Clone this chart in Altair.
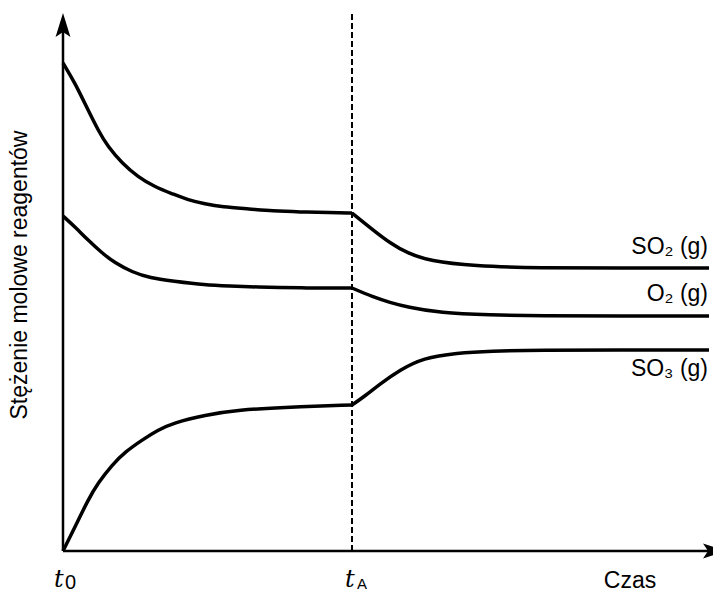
import altair as alt
import pandas as pd

# Data (x: time units from t0, y: concentration units); curves split at t_A
t_a = 289

so2_pre_x = [0, 12, 25, 35, 45, 59, 75, 92, 110, 125, 142, 159, 187, 209, 237, 267, 289]
so2_pre_y = [488, 468, 441, 421, 404, 388, 374, 364, 357, 351, 347, 344, 342, 340, 339, 338.5, 338]
so2_post_x = [289, 310, 327, 344, 367, 410, 477, 557, 646]
so2_post_y = [338, 321, 308, 298, 290, 285, 283, 283, 283]

o2_pre_x = [0, 12, 25, 39, 52, 69, 87, 110, 142, 167, 192, 237, 289]
o2_pre_y = [335, 324, 311, 298, 288, 279, 273, 270, 266, 265, 264, 263, 263]
o2_post_x = [289, 310, 327, 344, 377, 427, 477, 557, 646]
o2_post_y = [263, 254, 248.5, 244, 238, 236, 235, 235, 235]

so3_pre_x = [0, 12, 25, 35, 49, 62, 79, 95, 110, 142, 175, 225, 289]
so3_pre_y = [0, 24, 51, 68, 86, 99, 111, 121, 128, 136, 141, 144, 146]
so3_post_x = [289, 302, 317, 337, 360, 394, 427, 477, 557, 646]
so3_post_y = [146, 155, 167, 181, 193, 198, 200, 201, 201, 201]

series_names = ["SO₂ (g)", "O₂ (g)", "SO₃ (g)"]
label_x = [645, 645, 645]
label_y = [304, 257, 182]

x_axis_end = 652
y_axis_end = 526

W, H = 705, 582
xs = alt.Scale(domain=[-55, 650], nice=False, zero=False)
ys = alt.Scale(domain=[-39, 543], nice=False, zero=False)

rows = []
segs = [
    ("SO2a", so2_pre_x, so2_pre_y), ("SO2b", so2_post_x, so2_post_y),
    ("O2a", o2_pre_x, o2_pre_y), ("O2b", o2_post_x, o2_post_y),
    ("SO3a", so3_pre_x, so3_pre_y), ("SO3b", so3_post_x, so3_post_y),
]
for name, xx, yy in segs:
    for a, b in zip(xx, yy):
        rows.append({"s": name, "x": a, "y": b})
curves_df = pd.DataFrame(rows)

X = lambda f="x:Q": alt.X(f, scale=xs, axis=None)
Y = lambda f="y:Q": alt.Y(f, scale=ys, axis=None)

curves = alt.Chart(curves_df).mark_line(
    color="black", strokeWidth=3.5, interpolate="basis", strokeJoin="round", strokeCap="butt"
).encode(x=X(), y=Y(), detail="s:N", order="x:Q")

axes_df = pd.DataFrame({"x": [0, 0], "y": [0, 0], "x2": [x_axis_end, 0], "y2": [0, y_axis_end]})
axes = alt.Chart(axes_df).mark_rule(color="black", strokeWidth=2.5).encode(
    x=X(), x2="x2:Q", y=Y(), y2="y2:Q",
)

dash_df = pd.DataFrame({"x": [t_a], "y": [0], "y2": [539]})
dash = alt.Chart(dash_df).mark_rule(color="black", strokeWidth=2, strokeDash=[6, 3]).encode(
    x=X(), y=Y(), y2="y2:Q",
)

up_df = pd.DataFrame({"x": [0], "y": [y_axis_end]})
up_arrow = alt.Chart(up_df).mark_point(
    shape="M0,-1 L0.62,1 L0,0.58 L-0.62,1 Z", size=576, filled=True, color="black", opacity=1, strokeWidth=0
).encode(x=X(), y=Y())

right_df = pd.DataFrame({"x": [x_axis_end], "y": [0]})
right_arrow = alt.Chart(right_df).mark_point(
    shape="M1,0 L-1,-0.62 L-0.58,0 L-1,0.62 Z", size=576, filled=True, color="black", opacity=1, strokeWidth=0
).encode(x=X(), y=Y())

lab_df = pd.DataFrame({"t": series_names, "x": label_x, "y": label_y})
labels = alt.Chart(lab_df).mark_text(
    align="right", baseline="middle", font="Liberation Sans", fontSize=23, color="black"
).encode(x=X(), y=Y(), text="t:N")

czas_df = pd.DataFrame({"t": ["Czas"], "x": [567], "y": [-30]})
czas = alt.Chart(czas_df).mark_text(
    align="center", baseline="middle", font="Liberation Sans", fontSize=23, color="black"
).encode(x=X(), y=Y(), text="t:N")

ytitle_df = pd.DataFrame({"t": ["Stężenie molowe reagentów"], "x": [-43], "y": [276]})
ytitle = alt.Chart(ytitle_df).mark_text(
    align="center", baseline="middle", angle=270, font="Liberation Sans", fontSize=23, color="black"
).encode(x=X(), y=Y(), text="t:N")

tt_df = pd.DataFrame({"t": ["t", "t"], "x": [-9, 282], "y": [-36, -36]})
tt = alt.Chart(tt_df).mark_text(
    align="left", baseline="alphabetic", font="DejaVu Serif", fontStyle="italic", fontSize=24, color="black"
).encode(x=X(), y=Y(), text="t:N")

sub_df = pd.DataFrame({"t": ["0", "A"], "x": [2, 294], "y": [-38, -38], "s": [20, 15]})
subs = alt.Chart(sub_df).mark_text(
    align="left", baseline="alphabetic", font="Liberation Sans", color="black"
).encode(x=X(), y=Y(), text="t:N", size=alt.Size("s:Q", scale=None, legend=None))

chart = alt.layer(dash, axes, up_arrow, right_arrow, curves, labels, czas, ytitle, tt, subs).properties(
    width=W, height=H, autosize=alt.AutoSizeParams(type="none"), padding=0
).configure_view(stroke=None)

chart.save("out.html", embed_options={"renderer": "svg", "actions": False})
